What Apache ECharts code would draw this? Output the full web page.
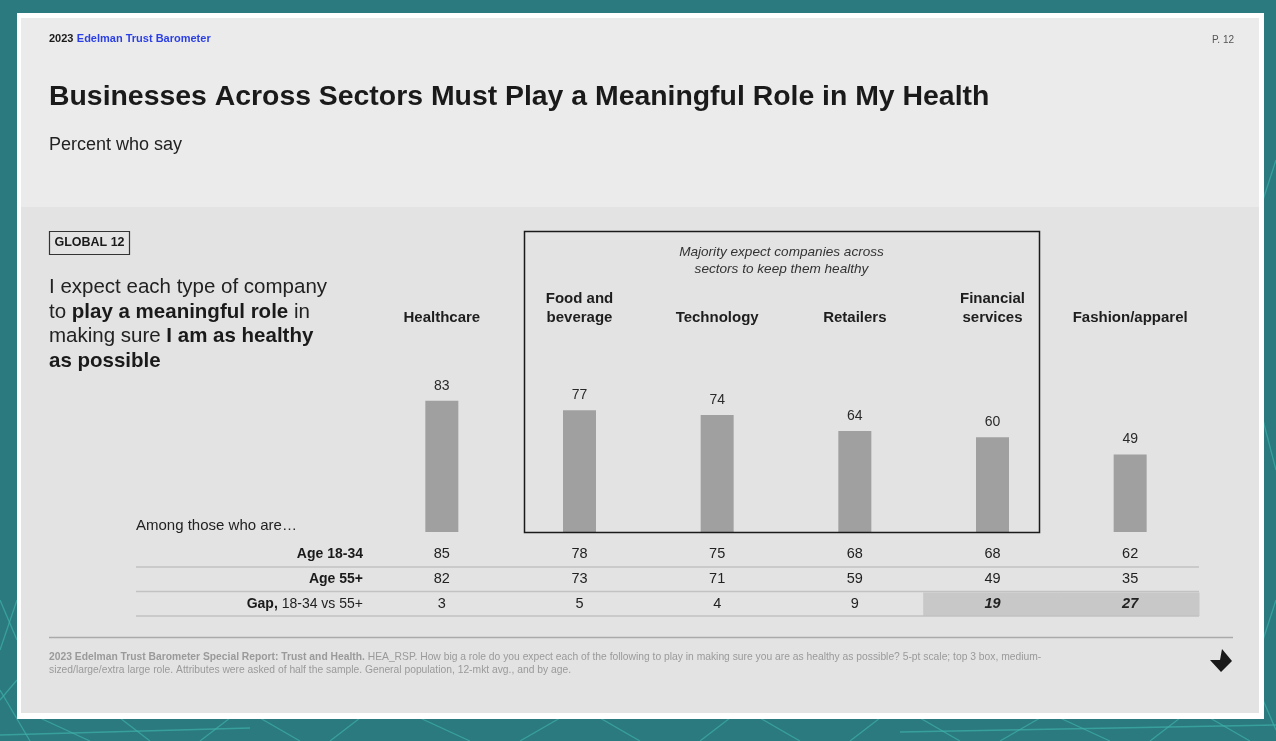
<!DOCTYPE html>
<html><head><meta charset="utf-8">
<script src="https://cdn.jsdelivr.net/npm/echarts@6/dist/echarts.min.js"></script>
<style>html,body{margin:0;padding:0;width:1276px;height:741px;overflow:hidden;background:#2b7a80}#c{width:1276px;height:741px}</style>
</head><body><div id="c"></div><script>
const categories = ['Healthcare', 'Food and\nbeverage', 'Technology', 'Retailers', 'Financial\nservices', 'Fashion/apparel'];
const overall = [83, 77, 74, 64, 60, 49];
const age1834 = [85, 78, 75, 68, 68, 62];
const age55 = [82, 73, 71, 59, 49, 35];
const gap = [3, 5, 4, 9, 19, 27];
const gapHighlight = [false, false, false, false, true, true];
const rowLabels = ['{b|Age 18-34}', '{b|Age 55+}', '{b|Gap,} 18-34 vs 55+'];

const FONT = '"Liberation Sans", Arial, Helvetica, sans-serif';
const chart = echarts.init(document.getElementById('c'), null, {renderer: 'canvas'});

// decorative network lines in the teal margin
const netLines = [
  [[0,690],[30,741]], [[0,600],[17,640]], [[40,718],[90,741]], [[120,718],[150,741]], [[200,741],[230,718]],
  [[260,718],[300,741]], [[330,741],[360,718]], [[420,718],[470,741]], [[520,741],[560,718]], [[600,718],[640,741]],
  [[700,741],[730,718]], [[760,718],[800,741]], [[850,741],[880,718]], [[920,718],[960,741]], [[1000,741],[1040,718]],
  [[1060,718],[1110,741]], [[1150,741],[1180,718]], [[1210,718],[1250,741]], [[1263,640],[1276,600]], [[1263,700],[1276,730]],
  [[1263,420],[1276,470]], [[0,650],[17,600]], [[0,700],[17,680]], [[1263,200],[1276,160]], [[0,735],[250,728]], [[900,732],[1276,725]]
];

chart.setOption({
  animation: false,
  backgroundColor: '#2b7a80',
  grid: {left: 373, top: 374, width: 826, height: 158},
  xAxis: {
    type: 'category', data: categories, position: 'top',
    axisLine: {show: false}, axisTick: {show: false},
    axisLabel: {
      margin: 47, fontFamily: FONT, fontSize: 15, fontWeight: 'bold', color: '#1e1e1e',
      lineHeight: 19, verticalAlign: 'bottom', interval: 0
    }
  },
  yAxis: {type: 'value', min: 0, max: 100, show: false, splitLine: {show: false}},
  graphic: [],
  series: [{
    type: 'bar', data: overall, barWidth: 33, itemStyle: {color: '#a0a0a0'},
    label: {show: true, position: 'top', distance: 8, fontFamily: FONT, fontSize: 14, color: '#2a2a2a'},
    z: 5
  }]
});

// build decoration and table using the axis scale
const cx = categories.map((c, i) => chart.convertToPixel({xAxisIndex: 0}, i));
const band = cx[1] - cx[0];
const g = [];
netLines.forEach(l => g.push({type: 'line', shape: {x1: l[0][0], y1: l[0][1], x2: l[1][0], y2: l[1][1]}, style: {stroke: '#3fb0a8', lineWidth: 1.3, opacity: 0.7}, z: -10}));
// card
g.push({type: 'rect', shape: {x: 17, y: 13, width: 1247, height: 706}, style: {fill: '#ffffff'}, z: -9});
g.push({type: 'rect', shape: {x: 21, y: 18, width: 1238, height: 189}, style: {fill: '#ebebeb'}, z: -8});
g.push({type: 'rect', shape: {x: 21, y: 207, width: 1238, height: 506}, style: {fill: '#e3e3e3'}, z: -8});
// header
g.push({type: 'text', x: 49, y: 39, style: {text: '{k|2023} {b|Edelman Trust Barometer}', verticalAlign: 'middle', fontFamily: FONT,
  rich: {k: {fontSize: 11, fontWeight: 'bold', fill: '#1a1a1a', fontFamily: FONT}, b: {fontSize: 11, fontWeight: 'bold', fill: '#2b3fe6', fontFamily: FONT}}}});
g.push({type: 'text', x: 1234, y: 40, style: {text: 'P. 12', align: 'right', verticalAlign: 'middle', fontFamily: FONT, fontSize: 10, fill: '#555'}});
g.push({type: 'text', x: 49, y: 97.5, style: {text: 'Businesses Across Sectors Must Play a Meaningful Role in My Health', verticalAlign: 'middle', fontFamily: FONT, fontSize: 28.4, fontWeight: 'bold', fill: '#1a1a1a'}});
g.push({type: 'text', x: 49, y: 145, style: {text: 'Percent who say', verticalAlign: 'middle', fontFamily: FONT, fontSize: 18, fill: '#222'}});
// Global 12 tag
g.push({type: 'rect', shape: {x: 49.5, y: 231.5, width: 80, height: 23}, style: {fill: 'none', stroke: '#333', lineWidth: 1.2}});
g.push({type: 'text', x: 89.5, y: 243, style: {text: 'GLOBAL 12', align: 'center', verticalAlign: 'middle', fontFamily: FONT, fontSize: 12.5, fontWeight: 'bold', fill: '#1a1a1a'}});
// left statement
g.push({type: 'text', x: 49, y: 275, style: {
  text: 'I expect each type of company\nto {b|play a meaningful role} in\nmaking sure {b|I am as healthy}\n{b|as possible}',
  fontFamily: FONT, fontSize: 20.5, lineHeight: 24.7, fill: '#222',
  rich: {b: {fontFamily: FONT, fontSize: 20.5, lineHeight: 24.7, fontWeight: 'bold', fill: '#1a1a1a'}}}});
// majority box
g.push({type: 'rect', shape: {x: 524.5, y: 231.5, width: 515, height: 301}, style: {fill: 'none', stroke: '#1a1a1a', lineWidth: 1.5}, z: 10});
g.push({type: 'text', x: (524 + 1039) / 2, y: 261, style: {text: 'Majority expect companies across\nsectors to keep them healthy', align: 'center', verticalAlign: 'middle',
  fontFamily: FONT, fontSize: 13.6, fontStyle: 'italic', lineHeight: 17, fill: '#333'}});
// table
g.push({type: 'text', x: 136, y: 526, style: {text: 'Among those who are\u2026', verticalAlign: 'middle', fontFamily: FONT, fontSize: 15, fill: '#222'}});
const rowY = [554, 579, 604];
const lineY = [567, 591.5, 616];
const tableLeft = 136, tableRight = cx[cx.length - 1] + band / 2;
gapHighlight.forEach((h, i) => { if (h) g.push({type: 'rect', shape: {x: cx[i] - band / 2 - 0.5, y: lineY[1] + 1, width: band + 1, height: lineY[2] - lineY[1] - 1}, style: {fill: '#c8c8c8'}, z: -5}); });
lineY.forEach(y => g.push({type: 'line', shape: {x1: tableLeft, y1: y, x2: tableRight, y2: y}, style: {stroke: '#c2c2c2', lineWidth: 1.6}, z: -4}));
rowLabels.forEach((t, r) => g.push({type: 'text', x: 363, y: rowY[r], style: {text: t, align: 'right', verticalAlign: 'middle', fontFamily: FONT, fontSize: 14, fill: '#222',
  rich: {b: {fontFamily: FONT, fontSize: 14, fontWeight: 'bold', fill: '#1a1a1a'}}}}));
[age1834, age55, gap].forEach((arr, r) => arr.forEach((v, i) => {
  const bold = r === 2 && gapHighlight[i];
  g.push({type: 'text', x: cx[i], y: rowY[r], style: {text: String(v), align: 'center', verticalAlign: 'middle', fontFamily: FONT, fontSize: 14.5,
    fontWeight: bold ? 'bold' : 'normal', fontStyle: bold ? 'italic' : 'normal', fill: '#222'}});
}));
// footer
g.push({type: 'line', shape: {x1: 49, y1: 637.5, x2: 1233, y2: 637.5}, style: {stroke: '#aaaaaa', lineWidth: 1.6}});
g.push({type: 'text', x: 49, y: 651, style: {
  text: '{b|2023 Edelman Trust Barometer Special Report: Trust and Health.} HEA_RSP. How big a role do you expect each of the following to play in making sure you are as healthy as possible? 5-pt scale; top 3 box, medium-\nsized/large/extra large role. Attributes were asked of half the sample. General population, 12-mkt avg., and by age.',
  fontFamily: FONT, fontSize: 10.3, lineHeight: 12.5, fill: '#9a9a9a',
  rich: {b: {fontFamily: FONT, fontSize: 10.3, lineHeight: 12.5, fontWeight: 'bold', fill: '#9a9a9a'}}}});
g.push({type: 'polygon', shape: {points: [[1210, 660], [1220, 660], [1222, 649], [1232, 661], [1221, 672]]}, style: {fill: '#1a1a1a'}});
chart.setOption({graphic: g});
</script></body></html>
